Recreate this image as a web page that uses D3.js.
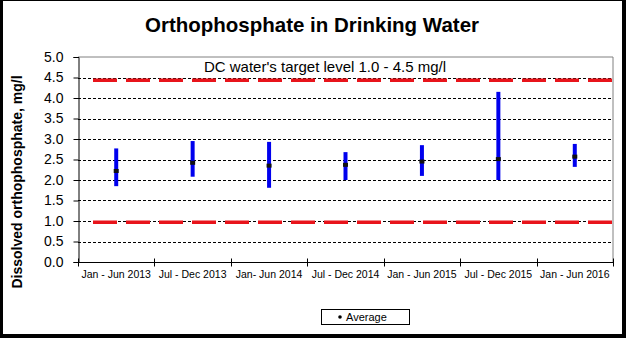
<!DOCTYPE html>
<html><head><meta charset="utf-8">
<script src="https://cdn.jsdelivr.net/npm/d3@7"></script>
<style>body{margin:0;background:#fff}svg{display:block;font-family:Arial,"Liberation Sans",sans-serif}</style>
</head><body>
<svg id="c" width="626" height="338"></svg>
<script>
const categories = ["Jan - Jun 2013","Jul - Dec 2013","Jan- Jun 2014","Jul - Dec 2014","Jan - Jun 2015","Jul - Dec 2015","Jan - Jun 2016"];
const minValues = [1.85, 2.08, 1.81, 2.00, 2.10, 2.00, 2.32];
const maxValues = [2.77, 2.95, 2.93, 2.68, 2.85, 4.15, 2.88];
const avgValues = [2.22, 2.42, 2.35, 2.37, 2.45, 2.51, 2.57];
const yTicks = [0,0.5,1,1.5,2,2.5,3,3.5,4,4.5,5];
const targetLevels = [0.97, 4.43];
const title = "Orthophosphate in Drinking Water";
const yTitle = "Dissolved orthophosphate, mg/l";
const note = "DC water's target level 1.0 - 4.5 mg/l";
const legendLabel = "Average";

const svg = d3.select("#c");
const L=78, R=613, T=57, B=262;
const x = d3.scaleBand().domain(categories).range([L,R]).padding(0);
const y = d3.scaleLinear().domain([0,5]).range([B,T]);

// frame
svg.append("rect").attr("x",0).attr("y",0).attr("width",626).attr("height",338).attr("fill","#000");
svg.append("rect").attr("x",3).attr("y",1).attr("width",619).attr("height",333).attr("fill","#fff");

// title
svg.append("text").attr("x",312).attr("y",32).attr("text-anchor","middle")
  .attr("font-size",20.5).attr("font-weight","bold").text(title);

// plot border (top/right gray)
svg.append("path").attr("d",`M${L},${T}H${R}V${B}`).attr("fill","none").attr("stroke","#808080").attr("stroke-width",1);

// grid
svg.append("g").selectAll("line").data(yTicks.filter(d=>d>0 && d<5)).join("line")
  .attr("x1",L).attr("x2",R).attr("y1",d=>Math.round(y(d))+0.5).attr("y2",d=>Math.round(y(d))+0.5)
  .attr("stroke","#000").attr("stroke-width",1).attr("stroke-dasharray","3,2");

// target lines
svg.append("g").selectAll("line").data(targetLevels).join("line")
  .attr("x1",L+15).attr("x2",R).attr("y1",d=>y(d)).attr("y2",d=>y(d))
  .attr("stroke","#e8141b").attr("stroke-width",3.5).attr("stroke-dasharray","24,9");

// axes
const yAxis = d3.axisLeft(y).tickValues(yTicks).tickFormat(d3.format(".1f")).tickSize(5).tickPadding(10);
const gy = svg.append("g").attr("transform",`translate(${L+0.5},0)`).call(yAxis);
gy.select(".domain").attr("stroke","#000");
gy.selectAll(".tick line").attr("stroke","#000");
gy.selectAll("text").attr("font-size",14).attr("fill","#000").attr("font-family",'Arial,"Liberation Sans",sans-serif');

const gx = svg.append("g").attr("transform",`translate(0,${B+0.5})`);
gx.append("line").attr("x1",L).attr("x2",R+0.5).attr("stroke","#000");
const bounds = categories.map(c=>x(c)).concat([R]);
gx.selectAll("line.tk").data(bounds).join("line").attr("class","tk")
  .attr("x1",d=>Math.round(d)+0.5).attr("x2",d=>Math.round(d)+0.5).attr("y1",-4).attr("y2",4).attr("stroke","#000");
gx.selectAll("text").data(categories).join("text")
  .attr("x",d=>x(d)+x.bandwidth()/2).attr("y",15).attr("text-anchor","middle")
  .attr("font-size",10.5).text(d=>d);

// y title
svg.append("text").attr("transform","translate(22,182) rotate(-90)").attr("text-anchor","middle")
  .attr("font-size",14).attr("font-weight","bold").text(yTitle);

// note
svg.append("text").attr("x",325).attr("y",72).attr("text-anchor","middle").attr("font-size",15).text(note);

// range bars
const data = categories.map((c,i)=>({c,min:minValues[i],max:maxValues[i],avg:avgValues[i]}));
svg.append("g").selectAll("line").data(data).join("line")
  .attr("x1",d=>x(d.c)+x.bandwidth()/2).attr("x2",d=>x(d.c)+x.bandwidth()/2)
  .attr("y1",d=>y(d.min)).attr("y2",d=>y(d.max)).attr("stroke","#0000ee").attr("stroke-width",4);
svg.append("g").selectAll("rect").data(data).join("rect")
  .attr("x",d=>x(d.c)+x.bandwidth()/2-2.5).attr("y",d=>y(d.avg)-2).attr("width",5).attr("height",4).attr("fill","#111");

// legend
const lg = svg.append("g");
lg.append("rect").attr("x",321.5).attr("y",309.5).attr("width",88).attr("height",15).attr("fill","#fff").attr("stroke","#000");
lg.append("circle").attr("cx",340).attr("cy",317).attr("r",1.8).attr("fill","#000");
lg.append("text").attr("x",346).attr("y",321).attr("font-size",11).text(legendLabel);
</script>
</body></html>
